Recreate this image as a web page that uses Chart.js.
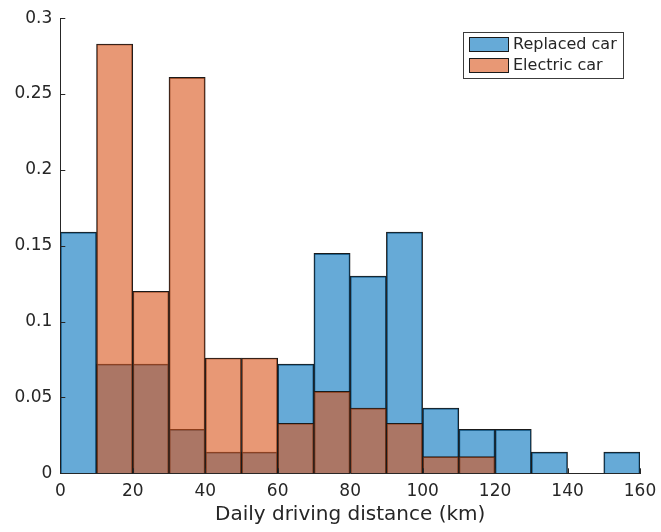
<!DOCTYPE html>
<html>
<head>
<meta charset="utf-8">
<script src="https://cdn.jsdelivr.net/npm/chart.js@4.4.1/dist/chart.umd.min.js"></script>
<style>
  html, body { margin: 0; padding: 0; background: #fff; }
  #wrap { width: 661px; height: 532px; }
</style>
</head>
<body>
<div id="wrap"><canvas id="hist" width="661" height="532"></canvas></div>
<script>
// histogram bins, width 10 km (centre of each bin)
const binCenters = [5, 15, 25, 35, 45, 55, 65, 75, 85, 95, 105, 115, 125, 135, 145, 155];
const replacedCar = [0.159, 0.072, 0.072, 0.029, 0.014, 0.014, 0.072, 0.145, 0.130, 0.159, 0.043, 0.029, 0.029, 0.014, 0, 0.014];
const electricCar = [0, 0.283, 0.120, 0.261, 0.076, 0.076, 0.033, 0.054, 0.043, 0.033, 0.011, 0.011, 0, 0, 0, 0];
const seriesLabels = ['Replaced car', 'Electric car'];
const xTickStep = 20;
const yTickStep = 0.05;

const axisColor = '#262626';
const fontFamily = 'DejaVu Sans';

// tick marks pointing inward, drawn over the bars (matlab style)
const inwardTicks = {
  id: 'inwardTicks',
  afterDatasetsDraw(chart) {
    const { ctx, chartArea, scales } = chart;
    ctx.save();
    ctx.strokeStyle = axisColor;
    ctx.lineWidth = 1;
    ctx.beginPath();
    scales.y.ticks.forEach(t => {
      const y = Math.round(scales.y.getPixelForValue(t.value)) + 0.5;
      ctx.moveTo(chartArea.left, y);
      ctx.lineTo(chartArea.left + 5, y);
    });
    scales.x.ticks.forEach(t => {
      const x = Math.round(scales.x.getPixelForValue(t.value)) + 0.5;
      ctx.moveTo(x, chartArea.bottom);
      ctx.lineTo(x, chartArea.bottom - 5);
    });
    ctx.stroke();
    ctx.restore();
  }
};

// legend box in the upper right corner of the axes
const boxLegend = {
  id: 'boxLegend',
  afterDraw(chart) {
    const ctx = chart.ctx;
    const x0 = 463.5, y0 = 32.5, w = 160, h = 46;
    ctx.save();
    ctx.fillStyle = '#fff';
    ctx.fillRect(x0, y0, w, h);
    ctx.strokeStyle = '#3c3c3c';
    ctx.lineWidth = 1;
    ctx.strokeRect(x0, y0, w, h);
    ctx.font = '16px "' + fontFamily + '"';
    ctx.textBaseline = 'middle';
    ctx.textAlign = 'left';
    chart.data.datasets.forEach((ds, i) => {
      const sy = 37 + i * 21;
      ctx.fillStyle = ds.backgroundColor;
      ctx.fillRect(469, sy, 40, 15);
      ctx.strokeStyle = '#1a1a1a';
      ctx.strokeRect(469.5, sy + 0.5, 39, 14);
      ctx.fillStyle = axisColor;
      ctx.fillText(ds.label, 513, sy + 8);
    });
    ctx.restore();
  }
};

const ctx = document.getElementById('hist').getContext('2d');
new Chart(ctx, {
  type: 'bar',
  data: {
    datasets: [
      {
        label: seriesLabels[0],
        data: binCenters.map((x, i) => ({ x, y: replacedCar[i] })),
        backgroundColor: 'rgba(0,114,189,0.6)',
        borderColor: '#1a1a1a',
        borderWidth: 1,
        barPercentage: 1,
        categoryPercentage: 1,
        grouped: false,
        order: 1
      },
      {
        label: seriesLabels[1],
        data: binCenters.map((x, i) => ({ x, y: electricCar[i] })),
        backgroundColor: 'rgba(217,83,25,0.6)',
        borderColor: '#1a1a1a',
        borderWidth: 1,
        barPercentage: 1,
        categoryPercentage: 1,
        grouped: false,
        order: 0 // electric car drawn on top of replaced car
      }
    ]
  },
  options: {
    responsive: false,
    animation: false,
    layout: { padding: { left: 0, top: 15, right: 21, bottom: 0 } },
    plugins: {
      legend: { display: false },
      tooltip: { enabled: false }
    },
    scales: {
      x: {
        type: 'linear',
        min: 0,
        max: 160,
        offset: false,
        grid: { display: false, offset: false, drawTicks: false },
        border: { display: true, color: axisColor, width: 1 },
        ticks: { stepSize: xTickStep, color: axisColor, padding: 8, font: { family: fontFamily, size: 17 } },
        title: {
          display: true,
          text: 'Daily driving distance (km)',
          color: axisColor,
          font: { family: fontFamily, size: 20 },
          padding: { top: 0, bottom: 5 }
        },
        afterFit: s => {
          s.height = 58.7;
          s.paddingLeft = 0;
          s.paddingRight = 0;
        }
      },
      y: {
        min: 0,
        max: 0.3,
        grid: { display: false, drawTicks: false },
        border: { display: true, color: axisColor, width: 1 },
        ticks: {
          stepSize: yTickStep,
          color: axisColor,
          padding: 8,
          font: { family: fontFamily, size: 17 },
          callback: v => String(parseFloat(v.toFixed(2)))
        },
        afterFit: s => { s.width = 60.3; }
      }
    }
  },
  plugins: [inwardTicks, boxLegend]
});
</script>
</body>
</html>
